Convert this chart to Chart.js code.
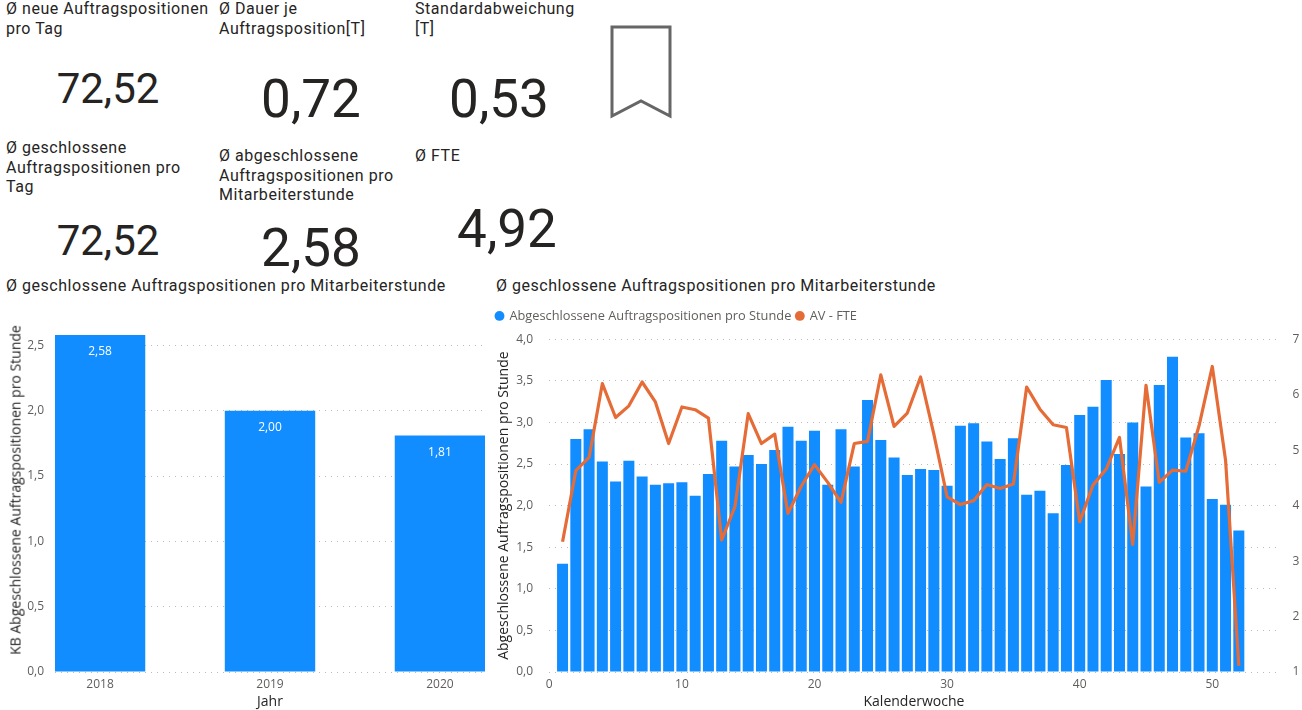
<!DOCTYPE html>
<html lang="de">
<head>
<meta charset="utf-8">
<title>Auftragspositionen</title>
<script src="https://cdn.jsdelivr.net/npm/chart.js@4"></script>
<style>
  html, body { margin: 0; padding: 0; background: #fff; overflow: hidden; }
  body { position: relative; width: 1302px; height: 710px; font-family: Roboto, sans-serif; color: #252423; }
  .label { position: absolute; font-size: 16px; line-height: 19.5px; letter-spacing: 0.53px; white-space: pre; }
  .value { position: absolute; width: 200px; text-align: center; transform: translate(-50%, -50%); line-height: 1; }
  .small { font-size: 42px; }
  .big { font-size: 53px; }
  canvas { position: absolute; }
  #leftTitle { position: absolute; left: 15px; top: 490px; transform: translate(-50%, -50%) rotate(-90deg); font: 14px "Open Sans", sans-serif; white-space: pre; }
</style>
</head>
<body>
<div class="label" style="left:6px;top:-1px">Ø neue Auftragspositionen
pro Tag</div>
<div class="label" style="left:219px;top:-1px">Ø Dauer je
Auftragsposition[T]</div>
<div class="label" style="left:415px;top:-1px">Standardabweichung
[T]</div>
<div class="label" style="left:6px;top:138px">Ø geschlossene
Auftragspositionen pro
Tag</div>
<div class="label" style="left:219px;top:146px">Ø abgeschlossene
Auftragspositionen pro
Mitarbeiterstunde</div>
<div class="label" style="left:415px;top:146px">Ø FTE</div>

<div class="value small" style="left:108px;top:89px">72,52</div>
<div class="value big" style="left:311px;top:99px">0,72</div>
<div class="value big" style="left:499px;top:99px">0,53</div>
<div class="value small" style="left:108px;top:241px">72,52</div>
<div class="value big" style="left:311px;top:248px">2,58</div>
<div class="value big" style="left:507px;top:229px">4,92</div>

<svg style="position:absolute;left:605px;top:20px" width="72" height="102">
  <path d="M7 7 H65 V96 L36 81 L7 96 Z" fill="none" stroke="#666" stroke-width="3"/>
</svg>

<div class="label" style="left:6px;top:276px">Ø geschlossene Auftragspositionen pro Mitarbeiterstunde</div>
<div class="label" style="left:496px;top:276px">Ø geschlossene Auftragspositionen pro Mitarbeiterstunde</div>

<canvas id="yearChart" width="486" height="410" style="left:0;top:300px"></canvas>
<div id="leftTitle">KB Abgeschlossene Auftragspositionen pro Stunde</div>
<canvas id="weekChart" width="811" height="410" style="left:491px;top:300px"></canvas>

<script>
// Data
const years = [2018, 2019, 2020];
const yearRate = [2.58, 2.00, 1.81];

const weeks = [1,2,3,4,5,6,7,8,9,10,11,12,13,14,15,16,17,18,19,20,21,22,23,24,25,26,
  27,28,29,30,31,32,33,34,35,36,37,38,39,40,41,42,43,44,45,46,47,48,49,50,51,52];
const weekRate = [1.30,2.80,2.92,2.53,2.29,2.54,2.35,2.25,2.27,2.28,2.12,2.38,2.78,2.47,2.61,2.50,2.67,2.95,2.78,2.90,2.25,2.92,2.47,3.27,2.79,2.58,
  2.37,2.44,2.43,2.24,2.96,2.99,2.77,2.56,2.81,2.13,2.18,1.91,2.49,3.09,3.19,3.51,2.62,3.00,2.23,3.45,3.79,2.82,2.87,2.08,2.01,1.70];
const weekFte = [3.35,4.63,4.87,6.20,5.59,5.80,6.23,5.87,5.12,5.78,5.73,5.58,3.38,3.98,5.66,5.12,5.29,3.86,4.35,4.74,4.42,4.06,5.12,5.16,6.36,5.43,
  5.67,6.32,5.29,4.16,4.02,4.09,4.38,4.31,4.39,6.14,5.74,5.46,5.41,3.71,4.37,4.66,5.23,3.30,6.17,4.42,4.64,4.62,5.44,6.51,4.82,1.11];

const BLUE = "#118DFF";
const ORANGE = "#E66C37";
const TICK = "#605E5C";
const DARK = "#252423";
const TICK_FONT = { family: "'Open Sans', sans-serif", size: 12 };
const TITLE_FONT = { family: "'Open Sans', sans-serif", size: 14 };
const dotted = { color: "#BEBBB8", lineWidth: 1, drawTicks: false };
const dottedBorder = { display: false, dash: [1, 5] };
const noGrid = { display: false, drawTicks: false };

function comma(v, digits) {
  return Number(v).toFixed(digits).replace(".", ",");
}

// white value inside the top of each bar
const barLabels = {
  id: "barLabels",
  afterDatasetsDraw(chart) {
    const ctx = chart.ctx;
    ctx.save();
    ctx.fillStyle = "#fff";
    ctx.font = "12px 'Open Sans', sans-serif";
    ctx.textAlign = "center";
    ctx.textBaseline = "middle";
    chart.getDatasetMeta(0).data.forEach((bar, i) => {
      ctx.fillText(comma(yearRate[i], 2), bar.x, bar.y + 17);
    });
    ctx.restore();
  }
};

// extra room under the legend
const legendGap = {
  id: "legendGap",
  beforeInit(chart) {
    const fit = chart.legend.fit;
    chart.legend.fit = function () {
      fit.call(this);
      this.height += 7;
    };
  }
};

new Chart("yearChart", {
  type: "bar",
  data: {
    datasets: [{
      data: years.map((y, i) => ({ x: y, y: yearRate[i] })),
      backgroundColor: BLUE,
      categoryPercentage: 1,
      barPercentage: 0.532
    }]
  },
  options: {
    responsive: false,
    animation: false,
    layout: { padding: { top: 35, right: 1 } },
    plugins: { legend: { display: false }, tooltip: { enabled: false } },
    scales: {
      x: {
        type: "linear",
        offset: false,
        min: 2017.735,
        max: 2020.265,
        grid: noGrid,
        border: { display: false },
        ticks: {
          stepSize: 1, includeBounds: false, padding: 5, color: TICK, font: TICK_FONT,
          maxRotation: 0, callback: v => String(v)
        },
        title: { display: true, text: "Jahr", color: DARK, font: TITLE_FONT, padding: { top: -3, bottom: 0 } },
        afterFit(scale) { scale.height = 38; }
      },
      y: {
        min: 0,
        max: 2.58,
        grid: dotted,
        border: dottedBorder,
        ticks: { stepSize: 0.5, includeBounds: false, padding: 11, color: TICK, font: TICK_FONT, callback: v => comma(v, 1) },
        afterFit(scale) { scale.width = 55; }
      }
    }
  },
  plugins: [barLabels]
});

new Chart("weekChart", {
  data: {
    datasets: [{
      type: "bar",
      label: "Abgeschlossene Auftragspositionen pro Stunde",
      data: weeks.map((w, i) => ({ x: w, y: weekRate[i] })),
      backgroundColor: BLUE,
      categoryPercentage: 1,
      barPercentage: 0.83,
      yAxisID: "y",
      order: 2
    }, {
      type: "line",
      label: "AV - FTE",
      data: weeks.map((w, i) => ({ x: w, y: weekFte[i] })),
      borderColor: ORANGE,
      backgroundColor: ORANGE,
      borderWidth: 3.2,
      tension: 0,
      pointRadius: 0,
      pointStyle: "circle",
      borderJoinStyle: "round",
      yAxisID: "y1",
      order: 1
    }]
  },
  options: {
    responsive: false,
    animation: false,
    layout: { padding: { top: 4.5 } },
    plugins: {
      tooltip: { enabled: false },
      legend: {
        position: "top",
        align: "start",
        labels: {
          usePointStyle: true,
          boxWidth: 7,
          boxHeight: 7,
          padding: 5,
          color: TICK,
          font: { family: "'Open Sans', sans-serif", size: 12.8 },
          sort: (a, b) => a.datasetIndex - b.datasetIndex,
          generateLabels: chart => Chart.defaults.plugins.legend.labels.generateLabels(chart)
            .map(item => Object.assign(item, { lineWidth: 0 }))
        }
      }
    },
    scales: {
      x: {
        type: "linear",
        offset: false,
        min: 0,
        max: 55,
        grid: noGrid,
        border: { display: false },
        ticks: { stepSize: 10, includeBounds: false, padding: 5, color: TICK, font: TICK_FONT, maxRotation: 0 },
        title: { display: true, text: "Kalenderwoche", color: DARK, font: TITLE_FONT, padding: { top: -3, bottom: 0 } },
        afterFit(scale) { scale.height = 38; }
      },
      y: {
        position: "left",
        min: 0,
        max: 4,
        grid: dotted,
        border: dottedBorder,
        ticks: { stepSize: 0.5, padding: 16.3, color: TICK, font: TICK_FONT, callback: v => comma(v, 1) },
        title: { display: true, text: "Abgeschlossene Auftragspositionen pro Stunde", color: DARK, font: TITLE_FONT, padding: { top: 4.6, bottom: 0 } },
        afterFit(scale) { scale.width = 58.3; }
      },
      y1: {
        position: "right",
        min: 1,
        max: 7,
        grid: noGrid,
        border: { display: false },
        ticks: { stepSize: 1, padding: 14, color: TICK, font: TICK_FONT },
        afterFit(scale) { scale.width = 23.4; }
      }
    }
  },
  plugins: [legendGap]
});
</script>
</body>
</html>
